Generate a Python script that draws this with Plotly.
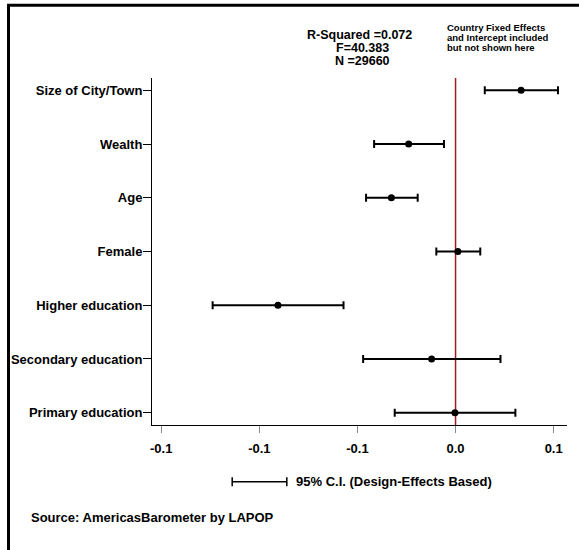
import plotly.graph_objects as go

# ---- data ----
variables = ["Size of City/Town", "Wealth", "Age", "Female",
             "Higher education", "Secondary education", "Primary education"]
coef = [0.0334, -0.0239, -0.0327, 0.0012, -0.0905, -0.0122, -0.0003]
ci_low = [0.0149, -0.0415, -0.0456, -0.0098, -0.1238, -0.0471, -0.0310]
ci_high = [0.0522, -0.0059, -0.0193, 0.0126, -0.0571, 0.0229, 0.0305]
x_tickvals = [-0.15, -0.10, -0.05, 0.0, 0.05]
x_ticktext = ["-0.1", "-0.1", "-0.1", "0.0", "0.1"]
stats_lines = ["R-Squared =0.072", "F=40.383", "N =29660"]
note_lines = ["Country Fixed Effects", "and Intercept included", "but not shown here"]
legend_text = "95% C.I. (Design-Effects Based)"
source_text = "Source: AmericasBarometer by LAPOP"

# ---- layout geometry (pixels) ----
W, H = 579, 550
L, R, T, B = 151.7, 11.7, 77.7, 125
PW, PH = W - L - R, H - T - B

def px(x):
    return (x - L) / PW

def py(y):
    return (H - B - y) / PH

FONT = "Arial, Liberation Sans, sans-serif"

order = list(reversed(variables))
fig = go.Figure()
fig.add_trace(go.Scatter(
    x=coef, y=variables, mode="markers",
    marker=dict(color="black", size=7),
    error_x=dict(type="data", symmetric=False,
                 array=[h - c for h, c in zip(ci_high, coef)],
                 arrayminus=[c - l for c, l in zip(coef, ci_low)],
                 color="black", thickness=2, width=4),
    showlegend=False, cliponaxis=False,
))

# zero reference line
fig.add_shape(type="line", xref="x", yref="y domain", x0=0, x1=0, y0=0, y1=1,
              line=dict(color="#a01c22", width=1.5), layer="below")

# outer frame (only top and left edges fall inside the picture)
fig.add_shape(type="rect", xref="paper", yref="paper",
              x0=px(8), x1=px(650), y0=py(5), y1=py(650),
              line=dict(color="black", width=3), fillcolor="rgba(0,0,0,0)")

# legend key
ly = 481.7
fig.add_shape(type="line", xref="paper", yref="paper",
              x0=px(232), x1=px(286.7), y0=py(ly), y1=py(ly),
              line=dict(color="black", width=1.5))
for xx in (232, 286.7):
    fig.add_shape(type="line", xref="paper", yref="paper",
                  x0=px(xx), x1=px(xx), y0=py(ly - 4.5), y1=py(ly + 4.5),
                  line=dict(color="black", width=1.5))

annots = []
for txt, cx, cy in zip(stats_lines, [359.5, 362.5, 363], [34.2, 47.3, 60.5]):
    annots.append(dict(text=txt, x=px(cx), y=py(cy), xanchor="center", yanchor="middle",
                       font=dict(size=12.5, family=FONT, weight="bold", color="black")))
for txt, cy in zip(note_lines, [27.3, 37.3, 47.3]):
    annots.append(dict(text=txt, x=px(445), y=py(cy), xanchor="left", yanchor="middle",
                       font=dict(size=9.5, family=FONT, weight="bold", color="black")))
annots.append(dict(text=legend_text, x=px(294), y=py(ly), xanchor="left", yanchor="middle",
                   font=dict(size=13, family=FONT, weight="bold", color="black")))
annots.append(dict(text=source_text, x=px(29), y=py(517.7), xanchor="left", yanchor="middle",
                   font=dict(size=13, family=FONT, weight="bold", color="black")))
for a in annots:
    a.update(xref="paper", yref="paper", showarrow=False)

fig.update_layout(
    width=W, height=H,
    margin=dict(l=L, r=R, t=T, b=B, pad=0),
    paper_bgcolor="white", plot_bgcolor="white",
    annotations=annots,
    font=dict(family=FONT, color="black"),
    xaxis=dict(range=[-0.1547, 0.0568], tickvals=x_tickvals, ticktext=x_ticktext,
               showgrid=False, zeroline=False, showline=True, linecolor="black", linewidth=1,
               ticks="outside", ticklen=7, tickcolor="#888888", tickwidth=1,
               ticklabelstandoff=4,
               tickfont=dict(size=13, family=FONT, weight="bold", color="black")),
    yaxis=dict(type="category", categoryorder="array", categoryarray=order,
               range=[-0.229, 6.229], showgrid=False, zeroline=False,
               showline=True, linecolor="black", linewidth=1,
               ticks="outside", ticklen=8, tickcolor="black", tickwidth=1,
               ticklabelstandoff=-2,
               tickfont=dict(size=13, family=FONT, weight="bold", color="black")),
)

fig.write_html("out.html", config={"displayModeBar": False},
               post_script="document.body.style.margin='0';")
